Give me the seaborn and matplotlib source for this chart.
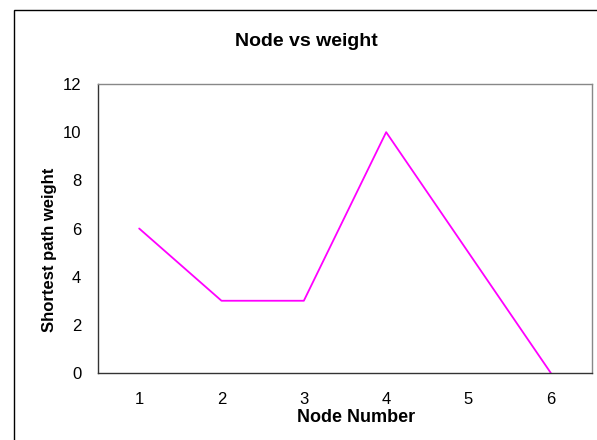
import numpy as np
import pandas as pd
import seaborn as sns
import matplotlib.pyplot as plt
from matplotlib.patches import Rectangle

nodes = [1, 2, 3, 4, 5, 6]
weights = [6, 3, 3, 10, 5, 0]

sns.set_style('white')
plt.rcParams['font.family'] = ['Liberation Sans', 'DejaVu Sans']
plt.rcParams['text.color'] = 'black'
plt.rcParams['xtick.color'] = 'black'
plt.rcParams['ytick.color'] = 'black'
plt.rcParams['axes.labelcolor'] = 'black'

df = pd.DataFrame({'node': nodes, 'weight': weights})

fig = plt.figure(figsize=(5.97, 4.40), dpi=100)
ax = fig.add_axes([98/597, 1 - 373/440, (592 - 98)/597, (373 - 84)/440])

sns.lineplot(data=df, x='node', y='weight', color='#FF00FF', linewidth=1.3, ax=ax)

# category style x axis: ticks between categories
ax.set_xlim(0.5, 6.5)
ax.set_xticks(nodes)
ax.set_xticks(np.arange(0.5, 7, 1), minor=True)
ax.tick_params(axis='x', which='major', length=0, pad=14, labelsize=12)
ax.tick_params(axis='x', which='minor', length=5, width=0.8, color='#333333', direction='out')
ax.set_ylim(0, 12)
ax.set_yticks(range(0, 13, 2))
ax.tick_params(axis='y', length=5, width=0.8, color='#333333', direction='out', labelsize=12, pad=7)

for side in ['left', 'bottom']:
    ax.spines[side].set_color('#333333')
    ax.spines[side].set_linewidth(1.0)
for side in ['top', 'right']:
    ax.spines[side].set_visible(True)
    ax.spines[side].set_color('#888888')
    ax.spines[side].set_linewidth(1.0)

ax.set_xlabel('Node Number', fontsize=13, fontweight='bold')
ax.xaxis.set_label_coords((356 - 98) / 494, -0.1246)
ax.set_ylabel('Shortest path weight', fontsize=12, fontweight='bold')
ax.yaxis.set_label_coords(-0.082, (373 - 250) / 289)
fig.text(306/597, 1 - 42/440, 'Node vs weight', ha='center', va='center',
         fontsize=14, fontweight='bold')

# chart area border, cut off at right and bottom like the original
fig.patches.append(Rectangle((14/597, -0.1), 1.0, 1.1 - 10/440, transform=fig.transFigure,
                             fill=False, edgecolor='black', linewidth=1.0))

fig.savefig('out.png', dpi=100)
